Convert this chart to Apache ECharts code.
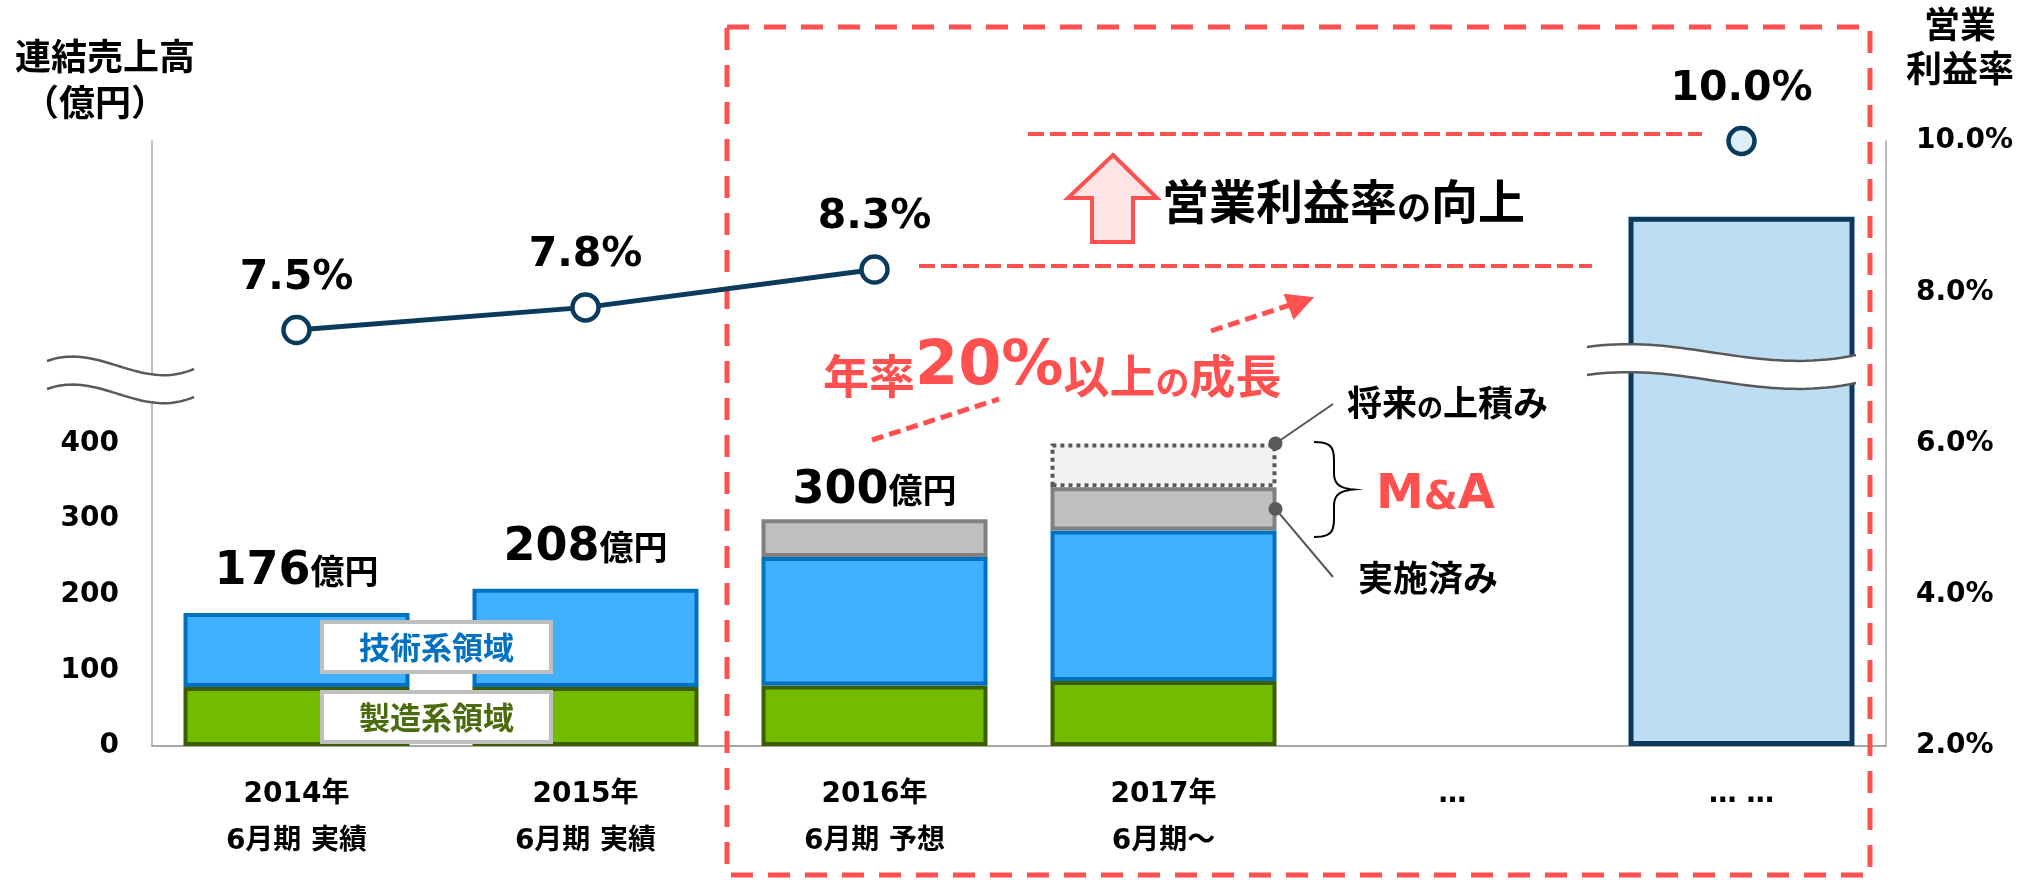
<!DOCTYPE html>
<html>
<head>
<meta charset="utf-8">
<script src="https://cdn.jsdelivr.net/npm/echarts@6/dist/echarts.min.js"></script>
<style>
html, body { margin: 0; padding: 0; background: #fff; }
#chart { width: 2028px; height: 880px; }
</style>
</head>
<body>
<div id="chart"></div>
<script>
// 連結売上高（億円）と営業利益率
const categories = ["2014年\n6月期 実績", "2015年\n6月期 実績", "2016年\n6月期 予想", "2017年\n6月期～", "…", "… …"];
const manufacturing = [78, 78, 80, 86, "-", "-"];   // 製造系領域
const technology = [98, 130, 170, 199, "-", "-"];   // 技術系領域
const maDone = ["-", "-", 50, 57, "-", "-"];        // M&A 実施済み
const maFuture = ["-", "-", "-", 58, "-", "-"];     // 将来の上積み
const outlook = ["-", "-", "-", "-", "-", 700];      // 将来イメージ（軸省略）
const salesTotal = [176, 208, 300, null, null, null];
const marginRate = [7.5, 7.8, 8.3, "-", "-", 10.0];
const salesTicks = [0, 100, 200, 300, 400];

const NUMF = "'DejaVu Sans', 'Noto Sans CJK JP', sans-serif";
const JPF = "'Noto Sans CJK JP', sans-serif";
const RED = "#FF5050";
const NAVY = "#0A3A5C";
const GRAY_AXIS = "#A6A6A6";

const chartDom = document.getElementById("chart");
const myChart = echarts.init(chartDom);

const barCommon = { type: "bar", stack: "sales", barWidth: 226, yAxisIndex: 0 };

const option = {
  animation: false,
  grid: { left: 152, right: 142, top: 141, bottom: 134 },
  xAxis: {
    type: "category",
    data: categories,
    axisLine: { lineStyle: { color: GRAY_AXIS, width: 2 } },
    axisTick: { show: false },
    axisLabel: {
      margin: 25,
      fontSize: 28,
      lineHeight: 47,
      fontWeight: "bold",
      color: "#000",
      fontFamily: NUMF,
    },
  },
  yAxis: [
    {
      type: "value",
      min: 0,
      max: 800,
      interval: 100,
      splitLine: { show: false },
      axisLine: { show: true, lineStyle: { color: GRAY_AXIS, width: 1.5 } },
      axisTick: { show: false },
      axisLabel: {
        margin: 33,
        fontSize: 28,
        fontWeight: "bold",
        color: "#000",
        fontFamily: NUMF,
        formatter: (v) => (salesTicks.indexOf(v) >= 0 ? String(v) : ""),
      },
    },
    {
      type: "value",
      min: 2,
      max: 10,
      interval: 2,
      splitLine: { show: false },
      axisLine: { show: true, lineStyle: { color: GRAY_AXIS, width: 1.5 } },
      axisTick: { show: false },
      axisLabel: {
        margin: 30,
        fontSize: 28,
        fontWeight: "bold",
        color: "#000",
        fontFamily: NUMF,
        formatter: (v) => v.toFixed(1) + "%",
      },
    },
  ],
  series: [
    {
      ...barCommon,
      name: "製造系領域",
      data: manufacturing,
      itemStyle: { color: "#72BB00", borderColor: "#3D5E00", borderWidth: 4 },
    },
    {
      ...barCommon,
      name: "技術系領域",
      data: technology,
      itemStyle: { color: "#40B0FF", borderColor: "#0070C0", borderWidth: 4 },
    },
    {
      ...barCommon,
      name: "M&A 実施済み",
      data: maDone,
      itemStyle: { color: "#BFBFBF", borderColor: "#808080", borderWidth: 4 },
    },
    {
      ...barCommon,
      name: "将来の上積み",
      data: maFuture,
      itemStyle: { color: "#F2F2F2", borderColor: "#595959", borderWidth: 4, borderType: "dotted" },
    },
    {
      ...barCommon,
      name: "将来",
      data: outlook,
      itemStyle: { color: "#BDDDF2", borderColor: NAVY, borderWidth: 5 },
    },
    {
      ...barCommon,
      name: "合計",
      silent: true,
      data: salesTotal.map((v, i) =>
        v == null ? "-" : { value: 0, label: { distance: i === 2 ? 5 : 18 } }
      ),
      itemStyle: { color: "transparent" },
      label: {
        show: true,
        position: "top",
        formatter: (p) => {
          const t = salesTotal[p.dataIndex];
          return t == null ? "" : "{n|" + t + "}{u|億円}";
        },
        rich: {
          n: { fontSize: 46, fontWeight: "bold", fontFamily: NUMF, color: "#000", verticalAlign: "bottom" },
          u: { fontSize: 34, fontWeight: "bold", fontFamily: JPF, color: "#000", verticalAlign: "bottom", padding: [0, 0, 7, 0] },
        },
      },
    },
    {
      type: "line",
      name: "営業利益率",
      yAxisIndex: 1,
      z: 10,
      data: marginRate.map((v, i) =>
        i === marginRate.length - 1 ? { value: v, itemStyle: { color: "#DDEEF8" } } : v
      ),
      symbol: "circle",
      symbolSize: 26,
      showAllSymbol: true,
      lineStyle: { color: NAVY, width: 5 },
      itemStyle: { color: "#fff", borderColor: NAVY, borderWidth: 4.5 },
      label: {
        show: true,
        position: "top",
        distance: 16,
        fontSize: 41,
        fontWeight: "bold",
        color: "#000",
        fontFamily: NUMF,
        formatter: (p) => Number(p.value).toFixed(1) + "%",
      },
    },
  ],
};

myChart.setOption(option);

// ベジェ曲線を折れ線の点に
function cubicPoints(p0, p1, p2, p3, n) {
  const pts = [];
  for (let i = 0; i <= n; i++) {
    const t = i / n, u = 1 - t;
    pts.push([
      u * u * u * p0[0] + 3 * u * u * t * p1[0] + 3 * u * t * t * p2[0] + t * t * t * p3[0],
      u * u * u * p0[1] + 3 * u * u * t * p1[1] + 3 * u * t * t * p2[1] + t * t * t * p3[1],
    ]);
  }
  return pts;
}

// 波線（省略記号）の帯
function breakBand(x0, x1, y0, gap, up, down) {
  const w = x1 - x0;
  const top = cubicPoints([x0, y0], [x0 + 0.36 * w, y0 - up], [x0 + 0.63 * w, y0 + down], [x1, y0 + 8], 40);
  const bot = top.map((p) => [p[0], p[1] + gap]);
  const stroke = { fill: null, stroke: "#595959", lineWidth: 2.5 };
  return [
    { type: "polygon", z: 100, shape: { points: top.concat(bot.slice().reverse()) }, style: { fill: "#fff", stroke: null } },
    { type: "polyline", z: 101, shape: { points: top }, style: stroke },
    { type: "polyline", z: 101, shape: { points: bot }, style: stroke },
  ];
}

// 中括弧 }
function bracePoints(x, yTop, yBot, depth) {
  const yMid = (yTop + yBot) / 2;
  const xm = x + depth / 2;
  return []
    .concat(cubicPoints([x, yTop], [x + depth * 0.45, yTop], [xm, yTop + 6], [xm, yTop + 20], 12))
    .concat(cubicPoints([xm, yMid - 16], [xm, yMid - 4], [x + depth * 0.7, yMid - 1], [x + depth, yMid], 10))
    .concat(cubicPoints([x + depth, yMid], [x + depth * 0.7, yMid + 1], [xm, yMid + 4], [xm, yMid + 16], 10))
    .concat(cubicPoints([xm, yBot - 20], [xm, yBot - 6], [x + depth * 0.45, yBot], [x, yBot], 12));
}

const toPx = (idx, v) => myChart.convertToPixel({ gridIndex: 0 }, [idx, v]);
const barRight = toPx(3, 0)[0] + 113;
const dotTop = toPx(3, 400);
const maMid = manufacturing[3] + technology[3] + maDone[3] / 2;
const dotMid = toPx(3, maMid);

const boldJP = (size, fill) => ({ fontSize: size, fontWeight: "bold", fontFamily: JPF, fill: fill, verticalAlign: "bottom" });
const boldNum = (size, fill) => ({ fontSize: size, fontWeight: "bold", fontFamily: NUMF, fill: fill, verticalAlign: "bottom" });

const graphics = [
  // 軸タイトル
  { type: "text", x: 15, y: 56, style: { text: "連結売上高", fontSize: 36, fontWeight: "bold", fontFamily: JPF, fill: "#000", verticalAlign: "middle" } },
  { type: "text", x: 23, y: 102, style: { text: "（億円）", fontSize: 36, fontWeight: "bold", fontFamily: JPF, fill: "#000", verticalAlign: "middle" } },
  { type: "text", x: 1960, y: 24, style: { text: "営業", fontSize: 36, fontWeight: "bold", fontFamily: JPF, fill: "#000", align: "center", verticalAlign: "middle" } },
  { type: "text", x: 1960, y: 68, style: { text: "利益率", fontSize: 36, fontWeight: "bold", fontFamily: JPF, fill: "#000", align: "center", verticalAlign: "middle" } },

  // 赤い点線の枠
  { type: "rect", z: 5, shape: { x: 727, y: 27, width: 1143, height: 848 }, style: { fill: null, stroke: RED, lineWidth: 5, lineDash: [22, 15] } },
  { type: "line", z: 5, shape: { x1: 1028, y1: 134, x2: 1702, y2: 134 }, style: { stroke: RED, lineWidth: 4, lineDash: [16, 6] } },
  { type: "line", z: 5, shape: { x1: 919, y1: 266, x2: 1592, y2: 266 }, style: { stroke: RED, lineWidth: 4, lineDash: [16, 6] } },

  // 上向き矢印
  {
    type: "polygon",
    z: 5,
    shape: { points: [[1113, 155], [1157, 198], [1133, 198], [1133, 242], [1092, 242], [1092, 198], [1068, 198]] },
    style: { fill: "#FFE4E6", stroke: RED, lineWidth: 4 },
  },
  {
    type: "text",
    z: 5,
    x: 1162,
    y: 201,
    style: {
      text: "{a|営業利益率}{b|の}{a|向上}",
      verticalAlign: "middle",
      rich: { a: boldJP(47, "#000"), b: boldJP(34, "#000") },
    },
  },

  // 成長の矢印
  { type: "line", z: 5, shape: { x1: 872, y1: 440, x2: 999, y2: 399 }, style: { stroke: RED, lineWidth: 5, lineDash: [12, 6] } },
  { type: "line", z: 5, shape: { x1: 1211, y1: 331, x2: 1296, y2: 303 }, style: { stroke: RED, lineWidth: 5, lineDash: [12, 6] } },
  { type: "polygon", z: 5, shape: { points: [[1312, 298], [1285, 295], [1294, 318]] }, style: { fill: RED, stroke: RED, lineWidth: 2 } },
  {
    type: "text",
    z: 5,
    x: 823,
    y: 368,
    style: {
      text: "{a|年率}{n|20%}{a|以上}{s|の}{a|成長}",
      verticalAlign: "middle",
      rich: { a: boldJP(46, RED), n: boldNum(62, RED), s: boldJP(34, RED) },
    },
  },

  // M&A 注記
  { type: "line", z: 20, shape: { x1: barRight - 1, y1: dotTop[1], x2: 1333, y2: 404 }, style: { stroke: "#555", lineWidth: 2 } },
  { type: "line", z: 20, shape: { x1: barRight - 1, y1: dotMid[1], x2: 1333, y2: 577 }, style: { stroke: "#555", lineWidth: 2 } },
  { type: "circle", z: 21, shape: { cx: barRight - 1, cy: dotTop[1], r: 7 }, style: { fill: "#595959" } },
  { type: "circle", z: 21, shape: { cx: barRight - 1, cy: dotMid[1], r: 7 }, style: { fill: "#595959" } },
  { type: "polyline", z: 20, shape: { points: bracePoints(1314, 442, 537, 40) }, style: { fill: null, stroke: "#000", lineWidth: 2 } },
  {
    type: "text",
    z: 20,
    x: 1347,
    y: 403,
    style: { text: "{a|将来}{b|の}{a|上積み}", verticalAlign: "middle", rich: { a: boldJP(35, "#000"), b: boldJP(26, "#000") } },
  },
  { type: "text", z: 20, x: 1358, y: 578, style: { text: "実施済み", fontSize: 35, fontWeight: "bold", fontFamily: JPF, fill: "#000", verticalAlign: "middle" } },
  {
    type: "text",
    z: 20,
    x: 1376,
    y: 496,
    style: {
      text: "{m|M}{s|&}{m|A}",
      verticalAlign: "middle",
      rich: { m: boldNum(48, RED), s: Object.assign(boldNum(39, RED), { padding: [0, 0, 2, 0] }) },
    },
  },

  // 領域ラベル
  { type: "rect", z: 30, shape: { x: 322, y: 622, width: 229, height: 50 }, style: { fill: "#fff", stroke: "#BFBFBF", lineWidth: 4 } },
  { type: "text", z: 31, x: 436.5, y: 647, style: { text: "技術系領域", fontSize: 31, fontWeight: "bold", fontFamily: JPF, fill: "#0070C0", align: "center", verticalAlign: "middle" } },
  { type: "rect", z: 30, shape: { x: 322, y: 692, width: 229, height: 50 }, style: { fill: "#fff", stroke: "#BFBFBF", lineWidth: 4 } },
  { type: "text", z: 31, x: 436.5, y: 717, style: { text: "製造系領域", fontSize: 31, fontWeight: "bold", fontFamily: JPF, fill: "#4A6B0E", align: "center", verticalAlign: "middle" } },
]
  .concat(breakBand(47, 194, 361, 28, 19, 31))
  .concat(breakBand(1587, 1856, 347, 28, 14, 29));

myChart.setOption({ graphic: { elements: graphics } });
</script>
</body>
</html>
